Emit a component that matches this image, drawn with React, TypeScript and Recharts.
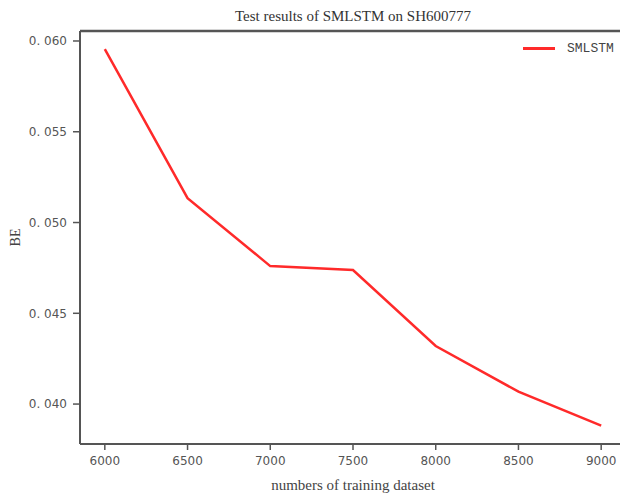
import { LineChart, Line, XAxis, YAxis, ReferenceLine } from "recharts";

const trainSizes = [6000, 6500, 7000, 7500, 8000, 8500, 9000];
const smlstmBE = [0.05955, 0.05134, 0.0476, 0.04738, 0.0432, 0.04068, 0.03881];
const xTicks = [6000, 6500, 7000, 7500, 8000, 8500, 9000];
const yTicks = [0.04, 0.045, 0.05, 0.055, 0.06];

const data = trainSizes.map((n, i) => ({ n, SMLSTM: smlstmBE[i] }));

const Y_MIN = 0.0378;
const Y_MAX = 0.06055;
const axisColor = "#555";
const tickFont = { fontFamily: "DejaVu Sans", fontSize: 12, fill: "#555" };

const fmtY = (v: number) => {
  const s = v.toFixed(3);
  return s.replace(".", ". ");
};

function LegendBox() {
  return (
    <div
      style={{
        position: "absolute",
        left: 523,
        top: 41,
        display: "flex",
        alignItems: "center",
      }}
    >
      <div style={{ width: 32, height: 3, background: "#ff2a2a" }} />
      <span
        style={{
          marginLeft: 12,
          fontFamily: "Liberation Mono",
          fontSize: 13,
          color: "#444",
        }}
      >
        SMLSTM
      </span>
    </div>
  );
}

export default function App() {
  return (
    <div
      style={{
        position: "absolute",
        left: 0,
        top: 0,
        width: 620,
        height: 494,
        overflow: "hidden",
        background: "#fff",
      }}
    >
      <div
        style={{
          position: "absolute",
          top: 8,
          left: 80,
          width: 546,
          textAlign: "center",
          fontFamily: "Liberation Serif",
          fontSize: 15,
          color: "#333",
        }}
      >
        Test results of SMLSTM on SH600777
      </div>
      <LineChart
        width={626}
        height={494}
        data={data}
        margin={{ top: 31, right: 0, bottom: 0, left: 0 }}
      >
        <XAxis
          dataKey="n"
          type="number"
          domain={[5850, 9150]}
          ticks={xTicks}
          height={50}
          axisLine={{ stroke: axisColor, strokeWidth: 2 }}
          tickLine={{ stroke: axisColor, strokeWidth: 1.5 }}
          tickSize={6}
          tick={tickFont}
          tickMargin={6}
          label={{
            value: "numbers of training dataset",
            position: "insideBottom",
            offset: 4,
            style: { fontFamily: "Liberation Serif", fontSize: 15, fill: "#444" },
          }}
        />
        <YAxis
          type="number"
          domain={[Y_MIN, Y_MAX]}
          ticks={yTicks}
          width={80}
          allowDataOverflow
          tickFormatter={fmtY}
          axisLine={{ stroke: axisColor, strokeWidth: 2 }}
          tickLine={{ stroke: axisColor, strokeWidth: 1.5 }}
          tickSize={7}
          tick={tickFont}
          tickMargin={6}
          label={{
            content: ({ viewBox }: any) => (
              <text
                x={0}
                y={0}
                transform={`translate(20, ${viewBox.y + viewBox.height / 2}) rotate(-90)`}
                textAnchor="middle"
                style={{ fontFamily: "Liberation Serif", fontSize: 14, fill: "#444" }}
              >
                BE
              </text>
            ),
          }}
        />
        <ReferenceLine y={Y_MAX} stroke={axisColor} strokeWidth={2.5} />
        <Line
          type="linear"
          dataKey="SMLSTM"
          stroke="#ff2a2a"
          strokeWidth={2.5}
          dot={false}
          isAnimationActive={false}
        />
      </LineChart>
      <LegendBox />
    </div>
  );
}
